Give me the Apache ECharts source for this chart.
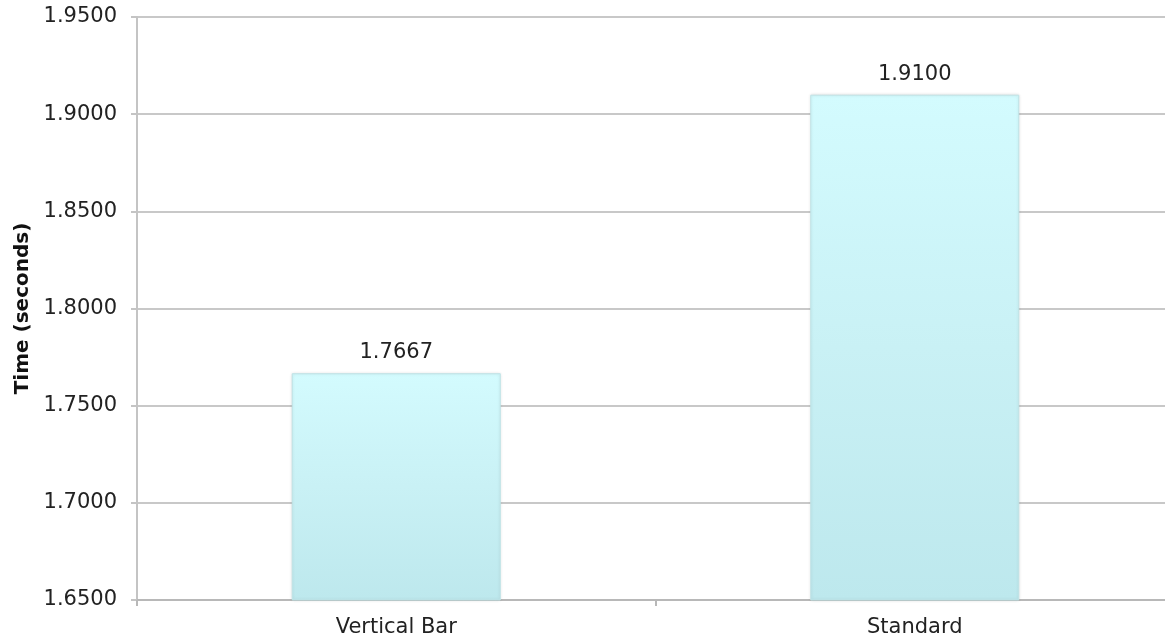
<!DOCTYPE html>
<html>
<head>
<meta charset="utf-8">
<script src="https://cdn.jsdelivr.net/npm/echarts@6/dist/echarts.min.js"></script>
<style>
  html, body { margin: 0; padding: 0; background: #ffffff; overflow: hidden; }
  /* the drawing runs a few pixels past the right edge of the window */
  #chart { width: 1174px; height: 639px; }
</style>
</head>
<body>
<div id="chart"></div>
<script>
// Timing results per layout
const categories = ['Vertical Bar', 'Standard'];
const times = [1.7667, 1.9100];
const yMin = 1.65;
const yMax = 1.95;
const yStep = 0.05;
const axisTitle = 'Time (seconds)';

const FONT = 'DejaVu Sans';
const chart = echarts.init(document.getElementById('chart'), null, { renderer: 'canvas' });

chart.setOption({
  animation: false,
  backgroundColor: '#ffffff',
  grid: { left: 137, top: 17, right: 0, bottom: 39, containLabel: false },
  xAxis: {
    type: 'category',
    data: categories,
    axisLine: { show: true, lineStyle: { color: '#b8b8b8', width: 2 } },
    axisTick: { show: true, alignWithLabel: false, length: 6, lineStyle: { color: '#b8b8b8', width: 2 } },
    axisLabel: { color: '#222222', fontFamily: FONT, fontSize: 21, margin: 17 },
    splitLine: { show: false }
  },
  yAxis: {
    type: 'value',
    min: yMin,
    max: yMax,
    interval: yStep,
    name: axisTitle,
    nameLocation: 'middle',
    nameGap: 104,
    nameTextStyle: { color: '#111111', fontFamily: FONT, fontSize: 20, fontWeight: 'bold' },
    axisLine: { show: true, lineStyle: { color: '#c4c4c4', width: 2 } },
    axisTick: { show: true, length: 6, lineStyle: { color: '#c4c4c4', width: 2 } },
    axisLabel: {
      color: '#222222', fontFamily: FONT, fontSize: 21, margin: 20,
      padding: [6, 0, 0, 0],
      formatter: v => v.toFixed(4)
    },
    splitLine: { show: true, lineStyle: { color: '#c8c8c8', width: 2 } }
  },
  series: [{
    type: 'bar',
    data: times,
    barWidth: 209,
    itemStyle: {
      color: new echarts.graphic.LinearGradient(0, 0, 0, 1, [
        { offset: 0, color: '#d3fbfe' },
        { offset: 0.5, color: '#c9f1f5' },
        { offset: 1, color: '#bde8ed' }
      ]),
      borderColor: '#bfe3e6',
      borderWidth: 1,
      shadowColor: 'rgba(0,0,0,0.12)',
      shadowBlur: 3
    },
    label: {
      show: true,
      position: 'top',
      distance: 10,
      color: '#222222',
      fontFamily: FONT,
      fontSize: 21,
      formatter: p => p.value.toFixed(4)
    },
    z: 3
  }]
});
</script>
</body>
</html>
